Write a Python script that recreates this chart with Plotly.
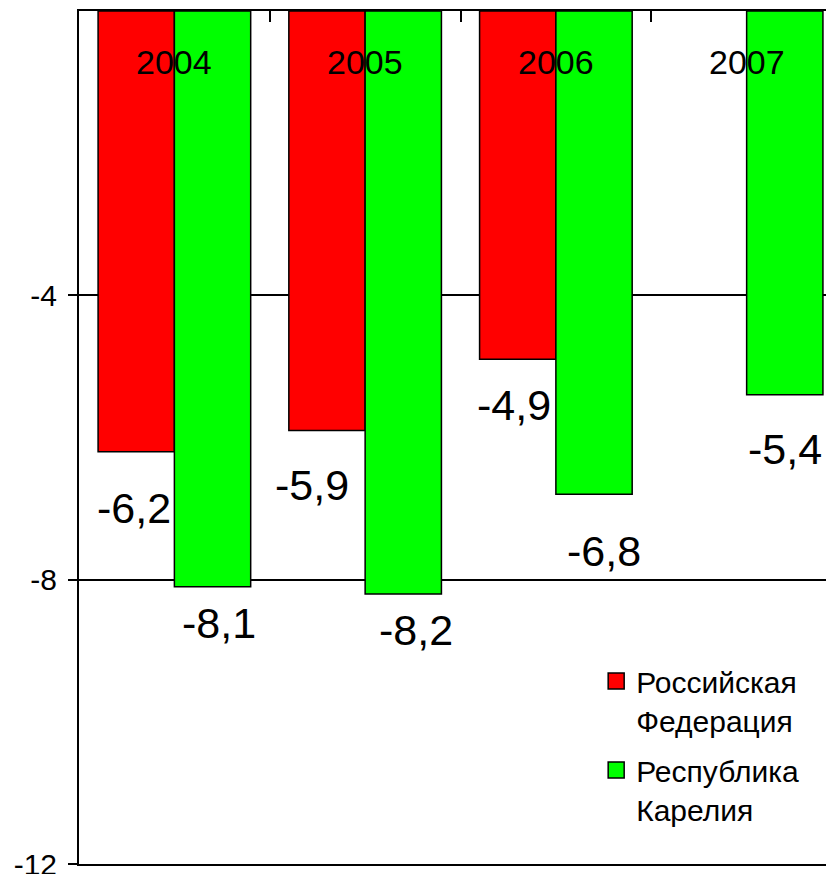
import plotly.graph_objects as go

years = ["2004", "2005", "2006", "2007"]
rf_values = [-6.2, -5.9, -4.9, None]
karelia_values = [-8.1, -8.2, -6.8, -5.4]
series_names = ["Российская<br>Федерация", "Республика<br>Карелия"]
y_ticks = [-12, -8, -4]

FONT = "Liberation Sans, Arial, sans-serif"
RED = "#FF0000"
GREEN = "#00FF00"

fig = go.Figure()
fig.add_trace(go.Bar(x=years, y=rf_values, name=series_names[0], showlegend=False,
                     marker=dict(color=RED, line=dict(color="black", width=1.5))))
fig.add_trace(go.Bar(x=years, y=karelia_values, name=series_names[1], showlegend=False,
                     marker=dict(color=GREEN, line=dict(color="black", width=1.5))))
# legend entries (square swatches)
for name, col, grp in ((series_names[0], RED, "a"), (series_names[1], GREEN, "b")):
    fig.add_trace(go.Scatter(x=[None], y=[None], mode="markers", name=name, legendgroup=grp,
                             marker=dict(symbol="square", size=16, color=col, line=dict(color="black", width=1.5))))

def fmt(v):
    return ("%.1f" % v).replace(".", ",")

# label offsets (pixels) relative to bar end
rf_shift = [(-2, -56), (-15, -55), (-4, -46), None]
ka_shift = [(6, -36), (13, -36), (10, -57), (0, -54)]

annotations = []
for i, y in enumerate(years):
    for vals, shifts, off in ((rf_values, rf_shift, -0.2), (karelia_values, ka_shift, 0.2)):
        v = vals[i]
        if v is None:
            continue
        xs, ys = shifts[i]
        annotations.append(dict(x=i + off, y=v, xref="x", yref="y", text=fmt(v), showarrow=False,
                                xanchor="center", yanchor="middle", xshift=xs, yshift=ys,
                                font=dict(family=FONT, size=43, color="black")))
    annotations.append(dict(x=i, y=1, xref="x", yref="paper", text=y, showarrow=False,
                            xanchor="center", yanchor="middle", yshift=-51,
                            font=dict(family=FONT, size=34, color="black")))

fig.update_layout(
    width=826, height=866,
    margin=dict(l=71, r=0, t=3, b=10, autoexpand=False),
    paper_bgcolor="white", plot_bgcolor="white",
    barmode="group", bargap=0.2, bargroupgap=0,
    font=dict(family=FONT, color="black"),
    xaxis=dict(type="category", side="top", range=[-0.5, 3.458], showline=True, linecolor="black", linewidth=2,
               mirror=True, ticks="inside", tickson="boundaries", ticklen=11, tickwidth=2, tickcolor="black",
               showticklabels=False, showgrid=False, zeroline=False, automargin=False),
    yaxis=dict(range=[-12, 0], tickvals=y_ticks, ticktext=[str(t) for t in y_ticks], showline=True, linecolor="black",
               linewidth=2, ticks="outside", ticklen=9, tickwidth=2, tickcolor="black",
               showgrid=True, gridcolor="black", gridwidth=1.5, zeroline=False,
               tickfont=dict(family=FONT, size=30, color="black"), ticklabelstandoff=5,
               ticklabeloverflow="allow", automargin=False),
    legend=dict(x=0.685, y=0.245, xanchor="left", yanchor="top", valign="top",
                font=dict(family=FONT, size=30, color="black"), tracegroupgap=8,
                traceorder="grouped", bgcolor="rgba(0,0,0,0)", itemwidth=30),
    annotations=annotations,
)

fig.write_html("out.html")
